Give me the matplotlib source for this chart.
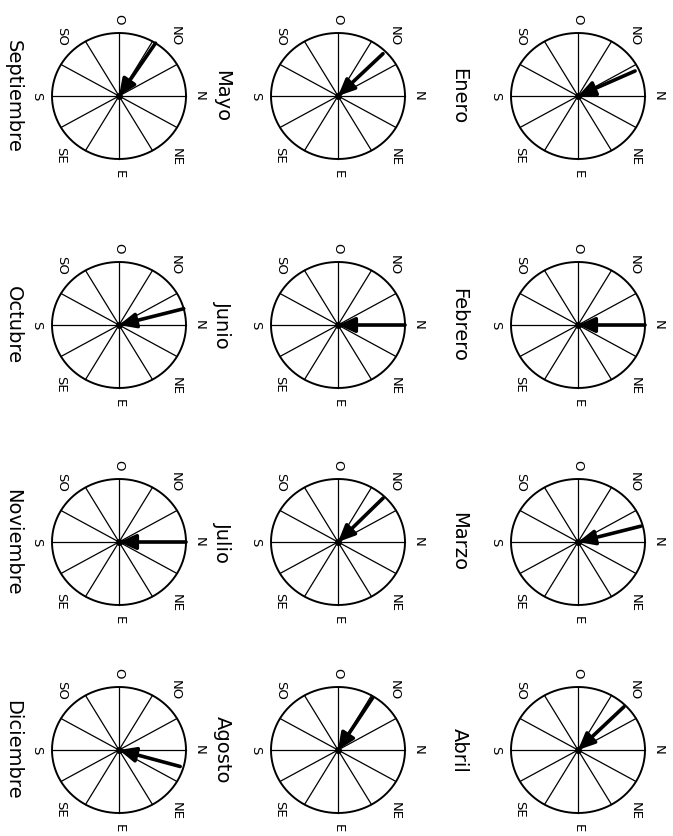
import numpy as np
import matplotlib
matplotlib.use('Agg')
import matplotlib.pyplot as plt

# months and dominant wind direction (bearing, N=0, E=90, clockwise)
months = ['Enero', 'Febrero', 'Marzo', 'Abril',
          'Mayo', 'Junio', 'Julio', 'Agosto',
          'Septiembre', 'Octubre', 'Noviembre', 'Diciembre']
bearings = [335, 0, 345, 315,
            315, 0, 314, 302,
            303, 345, 0, 16]
# arrow length as fraction of the rose radius
lengths = [0.94, 1.0, 0.97, 0.97,
           0.95, 1.0, 0.97, 0.98,
           1.0, 1.0, 1.0, 0.95]
points = ['N', 'NE', 'E', 'SE', 'S', 'SO', 'O', 'NO']

W, H = 673, 836
fig = plt.figure(figsize=(W / 100, H / 100), dpi=100)
ax = fig.add_axes([0, 0, 1, 1])
ax.set_xlim(0, W)
ax.set_ylim(H, 0)
ax.axis('off')

# layout (page is turned a quarter: north points to the right)
col_x = [578, 338, 119]
label_x = [459, 222, 13]
row_y = [96, 325, 542, 750]
rx, ry = 67, 63

def to_xy(b, r=1.0):
    a = np.deg2rad(b)
    return rx * r * np.cos(a), ry * r * np.sin(a)

# label offsets for the compass points (on the rotated page)
lab_off = {'N': (80, 0), 'S': (-82, 0), 'O': (0, -77), 'E': (0, 78),
           'NO': (56, -60), 'NE': (57, 61), 'SO': (-57, -60), 'SE': (-58, 59)}

for i, m in enumerate(months):
    cx = col_x[i // 4]
    cy = row_y[i % 4]

    t = np.linspace(0, 2 * np.pi, 300)
    ax.plot(cx + rx * np.cos(t), cy + ry * np.sin(t), color='black', lw=1.4)

    for b in range(0, 360, 30):
        dx, dy = to_xy(b)
        ax.plot([cx, cx + dx], [cy, cy + dy], color='black', lw=0.9)

    for p in points:
        ox, oy = lab_off[p]
        ax.text(cx + ox, cy + oy, p, rotation=270, ha='center', va='center',
                fontsize=9.5, color='black')

    dx, dy = to_xy(bearings[i], lengths[i])
    ax.annotate('', xy=(cx, cy), xytext=(cx + dx, cy + dy),
                arrowprops=dict(arrowstyle='-|>,head_length=1.0,head_width=0.45',
                                lw=2.6, color='black', shrinkA=0, shrinkB=0))
    ax.plot(cx, cy, 'o', color='black', ms=4)

    ax.text(label_x[i // 4], cy, m, rotation=270, ha='center', va='center',
            fontsize=14, color='black')

fig.savefig('out.png', dpi=100, facecolor='white')
